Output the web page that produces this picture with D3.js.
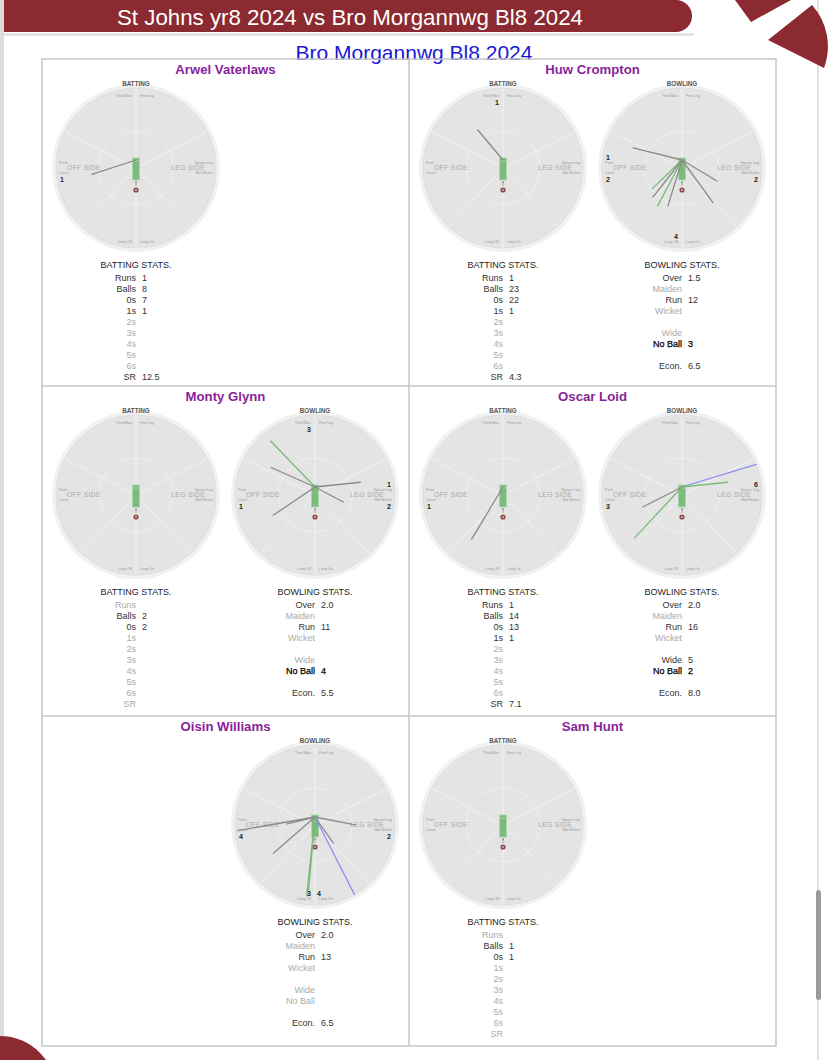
<!DOCTYPE html>
<html><head><meta charset="utf-8">
<script src="https://cdn.jsdelivr.net/npm/d3@7/dist/d3.min.js"></script>
<style>html,body{margin:0;padding:0;background:#fff;}svg{display:block;font-family:"Liberation Sans",Arial,sans-serif;}</style>
</head><body>
<script>
// ---------------- DATA ----------------
const matchTitle = "St Johns yr8 2024 vs Bro Morgannwg Bl8 2024";
const teamTitle = "Bro Morgannwg Bl8 2024";
const players = ["Arwel Vaterlaws","Huw Crompton","Monty Glynn","Oscar Loid","Oisin Williams","Sam Hunt"];
const hasBatting = [true,true,true,true,false,true];
const hasBowling = [false,true,true,true,true,false];

const batLabels = ["Runs","Balls","0s","1s","2s","3s","4s","5s","6s","SR"];
const batValues = [
  ["1","8","7","1","","","","","","12.5"],
  ["1","23","22","1","","","","","","4.3"],
  ["","2","2","","","","","","",""],
  ["1","14","13","1","","","","","","7.1"],
  null,
  ["","1","1","","","","","","",""]
];
const bowlLabels = ["Over","Maiden","Run","Wicket","","Wide","No Ball","","Econ."];
const bowlValues = [
  null,
  ["1.5","","12","","","","3","","6.5"],
  ["2.0","","11","","","","4","","5.5"],
  ["2.0","","16","","","5","2","","8.0"],
  ["2.0","","13","","","","","","6.5"],
  null
];
// shots: [bearing in degrees clockwise from straight up, length as share of boundary radius, colour key]
const batShots = [
  [[252,0.58,"grey"]],
  [[320,0.49,"grey"]],
  [],
  [[211,0.76,"grey"]],
  [],
  []
];
const bowlShots = [
  [],
  [[284,0.63,"grey"],[121,0.51,"grey"],[144,0.66,"grey"],[226,0.52,"green"],[218,0.59,"grey"],[208,0.65,"green"],[197,0.60,"grey"]],
  [[316,0.80,"green"],[294,0.60,"grey"],[84,0.57,"grey"],[118,0.40,"grey"],[236,0.63,"grey"]],
  [[73,0.97,"blue"],[84,0.57,"green"],[243,0.55,"grey"],[223,0.87,"green"]],
  [[260,0.98,"grey"],[256,0.36,"grey"],[229,0.69,"grey"],[101,0.51,"grey"],[145,0.40,"grey"],[186,0.99,"green"],[185,0.93,"green"],[153,1.09,"blue"]],
  []
];
// sector counts: [Third Man, Fine Leg, Square Leg, Mid Wicket, Long On, Long Off, Cover, Point]
const sectorNames = ["Third Man","Fine Leg","Square Leg","Mid Wicket","Long On","Long Off","Cover","Point"];
const batSectors = [
  [0,0,0,0,0,0,1,0],
  [1,0,0,0,0,0,0,0],
  [0,0,0,0,0,0,0,0],
  [0,0,0,0,0,0,1,0],
  null,
  [0,0,0,0,0,0,0,0]
];
const bowlSectors = [
  null,
  [0,0,0,2,0,4,2,1],
  [3,0,1,2,0,0,1,0],
  [0,0,6,0,0,0,3,0],
  [0,0,0,2,4,3,4,0],
  null
];
const spokeAngles = [0,63,137,180,223,297];

// ---------------- DRAW ----------------
const W = 828, H = 1060;
const svg = d3.select("body").append("svg").attr("width",W).attr("height",H);
const colours = {grey:"#8a8a8a", green:"#78bb78", blue:"#8a8cf0"};
const R = 80;
const rScale = d3.scaleLinear().domain([0,1]).range([0,R]);
const aScale = d3.scaleLinear().domain([0,360]).range([0,2*Math.PI]);

// page decorations
svg.append("rect").attr("x",0).attr("y",0).attr("width",4).attr("height",H).attr("fill","#dcdcdc");
svg.append("rect").attr("x",817).attr("y",0).attr("width",2).attr("height",H).attr("fill","#e2e2e2");
svg.append("rect").attr("x",816).attr("y",890).attr("width",5).attr("height",110).attr("rx",2.5).attr("fill","#9a9a9a");
svg.append("path").attr("d","M735,0 L791,0 L751,22 Z").attr("fill","#8b2a31");
svg.append("path").attr("d","M768,40 L812,5 A 62 62 0 0 1 824,68 Z").attr("fill","#8b2a31");
svg.append("circle").attr("cx",0).attr("cy",1092).attr("r",56).attr("fill","#8b2a31");

// banner
svg.append("rect").attr("x",4).attr("y",33).attr("width",690).attr("height",3).attr("fill","#e4e4e4");
svg.append("path").attr("d","M4,0 L676,0 A16 16 0 0 1 692,16 A16 16 0 0 1 676,32 L4,32 Z").attr("fill","#8b2a31");
svg.append("text").attr("x",350).attr("y",17).attr("dy","0.36em").attr("text-anchor","middle")
  .attr("fill","#fff").attr("font-size",22.3).text(matchTitle);
svg.append("text").attr("x",414).attr("y",52).attr("dy","0.36em").attr("text-anchor","middle")
  .attr("fill","#1818d4").attr("font-size",21).text(teamTitle);

// grid
const colX = [42,409], rowY = [59,386,716], cellW = 367;
const grid = svg.append("g").attr("fill","none").attr("stroke","#c6c6c6").attr("stroke-width",1.5);
grid.append("rect").attr("x",42).attr("y",59).attr("width",734).attr("height",987);
grid.append("line").attr("x1",409).attr("x2",409).attr("y1",59).attr("y2",1046);
[386,716].forEach(y=>grid.append("line").attr("x1",42).attr("x2",776).attr("y1",y).attr("y2",y));

function wheel(g, cx, cy, title, shots, sectors){
  g.append("circle").attr("cx",cx).attr("cy",cy).attr("r",R+4).attr("fill","#f1f1f1");
  g.append("circle").attr("cx",cx).attr("cy",cy).attr("r",R).attr("fill","#e4e4e4").attr("stroke","#dadada").attr("stroke-width",0.8);
  g.append("circle").attr("cx",cx).attr("cy",cy).attr("r",37).attr("fill","none").attr("stroke","#efefef").attr("stroke-width",1);
  spokeAngles.forEach(a=>{
    const p = d3.pointRadial(aScale(a), R);
    g.append("line").attr("x1",cx).attr("y1",cy).attr("x2",cx+p[0]).attr("y2",cy+p[1])
      .attr("stroke","#f2f2f2").attr("stroke-width",1);
  });
  g.append("text").attr("x",cx).attr("y",cy-82).attr("text-anchor","middle").attr("font-size",6.3)
    .attr("font-weight","bold").attr("fill","#555").text(title);
  const tiny = (x,y,anchor,t)=>g.append("text").attr("x",x).attr("y",y).attr("dy","0.35em")
      .attr("text-anchor",anchor).attr("font-size",3.6).attr("fill","#999").text(t);
  tiny(cx-4,cy-72,"end","Third Man"); tiny(cx+4,cy-72,"start","Fine Leg");
  tiny(cx-4,cy+74,"end","Long Off"); tiny(cx+4,cy+74,"start","Long On");
  tiny(cx-77,cy-5,"start","Point"); tiny(cx-77,cy+5,"start","Cover");
  tiny(cx+77,cy-5,"end","Square Leg"); tiny(cx+77,cy+5,"end","Mid Wicket");
  g.append("text").attr("x",cx-69).attr("y",cy).attr("dy","0.35em").attr("font-size",6.8)
    .attr("letter-spacing",0.3).attr("fill","#aaa").text("OFF SIDE");
  g.append("text").attr("x",cx+69).attr("y",cy).attr("dy","0.35em").attr("text-anchor","end").attr("font-size",6.8)
    .attr("letter-spacing",0.3).attr("fill","#aaa").text("LEG SIDE");
  // pitch
  g.append("rect").attr("x",cx-3.5).attr("y",cy-10).attr("width",7).attr("height",22)
    .attr("fill","#7dbb7d").attr("stroke","#a9d6a9").attr("stroke-width",0.8);
  g.append("line").attr("x1",cx-3).attr("x2",cx+3).attr("y1",cy-7).attr("y2",cy-7).attr("stroke","#b4dcb4").attr("stroke-width",0.7);
  g.append("line").attr("x1",cx).attr("x2",cx).attr("y1",cy+14).attr("y2",cy+18).attr("stroke","#888").attr("stroke-width",0.8);
  g.append("circle").attr("cx",cx).attr("cy",cy+14).attr("r",1).attr("fill","#999");
  g.append("circle").attr("cx",cx).attr("cy",cy+22).attr("r",2.6).attr("fill","#8a4a4a");
  g.append("circle").attr("cx",cx).attr("cy",cy+22).attr("r",1).attr("fill","#d8b8b8");
  // shots
  const ox = cx, oy = cy-8;
  shots.forEach(s=>{
    const p = d3.pointRadial(aScale(s[0]), rScale(s[1]));
    g.append("line").attr("x1",ox).attr("y1",oy).attr("x2",ox+p[0]).attr("y2",oy+p[1])
      .attr("stroke",colours[s[2]]).attr("stroke-width",1.3).attr("stroke-linecap","round");
  });
  // sector counts
  const pos = [[-6,-65],[6,-65],[74,-10],[74,12],[4,69],[-6,69],[-74,12],[-74,-10]];
  sectors.forEach((v,i)=>{
    if(!v) return;
    g.append("text").attr("x",cx+pos[i][0]).attr("y",cy+pos[i][1]).attr("dy","0.35em")
      .attr("text-anchor","middle").attr("font-size",7).attr("font-weight","bold").attr("fill","#222").text(v);
  });
}

function stats(g, cx, y0, title, labels, values){
  g.append("text").attr("x",cx).attr("y",y0).attr("dy","0.35em").attr("text-anchor","middle")
    .attr("font-size",9).attr("fill","#222").text(title);
  labels.forEach((l,i)=>{
    if(!l) return;
    const v = values[i];
    const strong = v !== "" && (l==="No Ball");
    g.append("text").attr("x",cx).attr("y",y0+13+i*11).attr("dy","0.35em").attr("text-anchor","end")
      .attr("font-size",9).attr("fill", v==="" ? "#aaa" : (strong ? "#000" : "#333"))
      .attr("stroke", strong ? "#000" : "none").attr("stroke-width",0.25).text(l);
    if(v!=="") g.append("text").attr("x",cx+6).attr("y",y0+13+i*11).attr("dy","0.35em")
      .attr("font-size",9).attr("fill", strong ? "#000" : "#333")
      .attr("stroke", strong ? "#000" : "none").attr("stroke-width",0.25).text(v);
  });
}

players.forEach((name,i)=>{
  const x0 = colX[i%2], y0 = rowY[Math.floor(i/2)];
  const g = svg.append("g");
  g.append("text").attr("x",x0+cellW/2).attr("y",y0+10).attr("dy","0.35em").attr("text-anchor","middle")
    .attr("font-size",13.2).attr("font-weight","bold").attr("fill","#8a1f9a").text(name);
  const cy = y0 + 109;
  if(hasBatting[i]){
    wheel(g, x0+94, cy, "BATTING", batShots[i], batSectors[i]);
    stats(g, x0+94, y0+206, "BATTING STATS.", batLabels, batValues[i]);
  }
  if(hasBowling[i]){
    wheel(g, x0+273, cy, "BOWLING", bowlShots[i], bowlSectors[i]);
    stats(g, x0+273, y0+206, "BOWLING STATS.", bowlLabels, bowlValues[i]);
  }
});
</script>
</body></html>
